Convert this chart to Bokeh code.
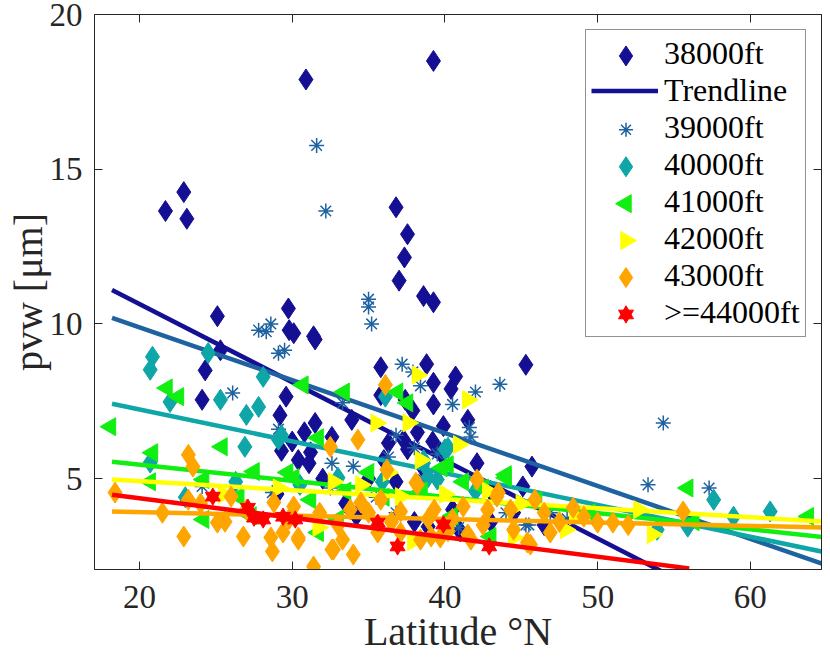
import math
from bokeh.plotting import figure
from bokeh.models import (LinearAxis, FixedTicker, Legend, LegendItem, Range1d)
from bokeh.embed import file_html
from bokeh.resources import INLINE

# ---------------- data ----------------
lat_38 = [30.9, 39.25, 22.9, 21.7, 23.1, 36.8, 37.55, 37.35, 37.0, 38.6, 39.25, 29.75, 25.1,
          29.8, 30.1, 31.4, 31.5, 25.3, 24.3, 24.1, 29.6, 29.2, 29.3, 30.4, 30.8, 31.5, 31.2,
          31.1, 32.6, 33.9, 35.8, 35.8, 38.8, 40.7, 40.4, 39.25, 39.25, 37.4, 37.9, 38.2, 37.3,
          37.55, 39.2, 39.7, 42.1, 45.3, 45.7, 45.1, 38.9, 36.3, 36.8, 30.0, 29.0, 33.5, 35.0,
          38.0, 40.5, 41.0, 43.0, 34.2, 41.5, 39.9, 38.5, 36.0, 32.0, 43.0, 44.5, 46.5]
pvw_38 = [17.9, 18.5, 14.26, 13.65, 13.4, 13.77, 12.9, 12.15, 11.4, 10.9, 10.7, 10.5, 10.25,
          9.8, 9.7, 9.6, 9.5, 9.15, 8.5, 7.55, 7.65, 7.05, 5.9, 5.6, 6.5, 6.8, 5.85,
          5.5, 6.35, 6.9, 8.6, 7.7, 8.7, 8.3, 7.9, 8.1, 7.4, 7.55, 7.2, 6.5, 6.25,
          5.95, 6.2, 5.85, 5.5, 8.68, 5.39, 4.75, 3.45, 6.15, 4.9, 6.2, 4.5, 4.2, 5.0,
          3.6, 4.0, 3.3, 3.6, 3.8, 6.9, 6.7, 5.4, 5.6, 5.0, 4.6, 3.9, 3.5]

lat_39 = [31.6, 32.2, 35.0, 35.0, 35.2, 27.8, 28.3, 28.6, 29.1, 29.5, 26.1, 29.1, 32.6, 33.3,
          24.1, 28.7, 36.3, 37.2, 37.9, 38.4, 40.5, 42.0, 41.6, 41.7, 36.8, 43.6, 54.3, 53.3,
          57.3, 45.5, 46.9, 38.6, 40.9, 45.3, 32.5, 35.5, 38.0, 39.5, 36.8, 34.0, 44.0, 48.0]
pvw_39 = [15.77, 13.65, 10.8, 10.55, 10.0, 9.8, 9.75, 10.0, 9.05, 9.15, 7.77, 6.6, 5.5, 7.45,
          4.75, 4.55, 5.7, 8.7, 8.45, 8.0, 7.4, 7.8, 6.65, 6.35, 6.4, 8.05, 6.8, 4.8,
          4.7, 3.5, 3.9, 4.97, 3.42, 3.5, 4.7, 4.4, 6.0, 5.8, 3.9, 5.4, 3.9, 3.7]

lat_40 = [20.85, 20.7, 24.5, 22.0, 25.3, 28.1, 27.8, 27.0, 26.9, 20.7, 29.1, 26.3, 33.0, 35.9,
          36.1, 38.6, 40.0, 40.2, 38.6, 38.9, 57.6, 61.3, 58.9, 53.9, 55.9, 39.5, 29.3, 42.0,
          30.5, 23.0]
pvw_40 = [8.94, 8.52, 9.06, 7.48, 7.55, 8.29, 7.32, 7.06, 6.03, 5.52, 6.26, 4.9, 5.03, 4.9,
          7.65, 5.6, 5.95, 6.0, 5.5, 5.05, 4.32, 3.94, 3.77, 3.35, 3.45, 4.97, 6.4, 4.6,
          4.8, 4.4]

lat_41 = [18.1, 21.8, 22.55, 20.85, 20.7, 25.4, 30.7, 33.4, 31.7, 27.5, 30.1, 24.2, 24.2, 31.7,
          26.5, 31.2, 36.9, 37.55, 40.2, 44.0, 41.2, 55.9, 63.8, 56.3, 43.0, 39.8, 44.0, 29.7,
          33.5, 36.0, 38.5, 42.5, 46.0, 49.5, 35.0, 27.3, 33.0, 40.5]
pvw_41 = [6.68, 7.93, 7.65, 5.84, 4.9, 6.03, 8.03, 7.8, 6.32, 5.23, 5.03, 4.97, 3.68, 3.26,
          4.42, 4.32, 7.8, 7.45, 5.45, 5.03, 4.9, 4.7, 3.78, 3.61, 3.13, 5.35, 5.13, 5.2,
          4.6, 4.4, 4.6, 4.7, 4.3, 3.9, 5.2, 3.8, 3.7, 3.8]

lat_42 = [35.5, 32.7, 29.1, 38.2, 41.5, 37.6, 40.9, 52.7, 53.6, 47.9, 37.1, 40.0, 37.9, 31.7,
          36.3, 38.4, 34.5, 42.8, 45.0, 25.5, 44.5, 48.5]
pvw_42 = [6.8, 4.9, 4.7, 8.35, 7.55, 6.8, 6.1, 4.0, 3.2, 3.35, 4.42, 4.5, 2.97, 3.42,
          5.2, 5.6, 4.8, 4.6, 4.2, 4.5, 3.1, 3.8]

lat_43 = [18.4, 23.2, 23.5, 23.2, 26.0, 25.1, 25.6, 22.9, 26.8, 28.6, 28.7, 29.4, 30.4, 31.4,
          32.6, 33.3, 34.0, 34.3, 32.5, 36.1, 36.2, 28.8, 35.0, 33.8, 35.6, 38.1, 42.1, 43.4,
          45.9, 48.4, 49.1, 50.0, 51.0, 55.6, 46.9, 45.4, 44.5, 41.7, 40.2, 39.1, 37.1, 38.2,
          43.5, 30.1, 34.5, 35.8, 37.1, 39.3, 41.2, 42.8, 44.3, 30.4, 32.7, 38.4, 39.7, 41.5,
          45.6, 27.0, 31.8, 36.5, 40.5, 47.5, 52.0, 21.5, 24.0, 29.8, 33.0, 38.9, 42.5, 46.5]
pvw_43 = [4.55, 5.77, 5.39, 4.32, 4.42, 3.58, 3.61, 3.13, 3.13, 3.1, 2.65, 3.26, 3.03, 2.16,
          2.71, 3.03, 2.55, 6.26, 6.03, 8.03, 5.29, 4.23, 3.9, 4.0, 3.26, 4.87, 4.97, 4.42,
          4.32, 4.06, 3.77, 3.58, 3.58, 3.94, 3.26, 2.94, 3.35, 3.03, 3.3, 3.13, 3.26, 4.81,
          4.55, 4.1, 4.23, 4.32, 3.94, 4.0, 4.1, 4.0, 4.0, 3.1, 2.71, 3.03, 3.1, 3.2,
          2.87, 4.0, 3.9, 3.6, 3.7, 3.6, 3.5, 3.9, 4.2, 3.7, 3.5, 3.7, 3.5, 3.9]

lat_44 = [24.8, 27.1, 27.5, 28.1, 29.4, 30.2, 35.6, 39.9, 36.9, 42.9]
pvw_44 = [4.42, 4.06, 3.74, 3.68, 3.77, 3.68, 3.58, 3.52, 2.81, 2.81]

# trendline end points
trend_lat_38 = [18.2, 56.0]; trend_pvw_38 = [11.1, 1.55]
trend_lat_39 = [18.2, 65.0]; trend_pvw_39 = [10.2, 2.2]
trend_lat_40 = [18.2, 65.0]; trend_pvw_40 = [7.42, 2.61]
trend_lat_41 = [18.2, 65.0]; trend_pvw_41 = [5.55, 3.1]
trend_lat_42 = [18.2, 65.0]; trend_pvw_42 = [4.97, 3.61]
trend_lat_43 = [18.2, 65.0]; trend_pvw_43 = [3.94, 3.42]
trend_lat_44 = [18.2, 56.0]; trend_pvw_44 = [4.48, 2.1]

labels = ["38000ft", "Trendline", "39000ft", "40000ft", "41000ft", "42000ft", "43000ft", ">=44000ft"]
x_ticks = [20, 30, 40, 50, 60]
y_ticks = [5, 10, 15, 20]

# ---------------- styling / layout ----------------
C38 = "#140f93"
C39 = "#1f62a0"
C40 = "#0ea6a6"
C41 = "#11ee11"
C42 = "#ffff00"
C43 = "#ffa500"
C44 = "#ff0000"
AX = "#262626"
FONT = "Liberation Serif"

W, H = 822, 656
FL, FT, FR, FB = 94, 14, 821, 570          # frame edges in canvas pixels
X0, X1 = 17.053, 64.66
Y0, Y1 = 2.065, 20.0

p = figure(width=W, height=H, output_backend="svg", toolbar_location=None,
           x_range=Range1d(X0, X1), y_range=Range1d(Y0, Y1),
           min_border_left=FL, min_border_top=FT, min_border_right=W - FR,
           min_border_bottom=H - FB)
p.grid.visible = False
p.outline_line_color = AX
p.background_fill_color = "white"
p.border_fill_color = "white"

def style_axis(ax, ticks, show_labels, standoff):
    ax.ticker = FixedTicker(ticks=ticks)
    ax.axis_line_color = AX
    ax.major_tick_line_color = AX
    ax.major_tick_in = 8
    ax.major_tick_out = 0
    ax.minor_tick_line_color = None
    ax.major_label_text_font = FONT
    ax.major_label_text_color = AX
    if show_labels:
        ax.major_label_text_font_size = "33px"
        ax.major_label_standoff = standoff
    else:
        ax.major_label_text_font_size = "0px"
        ax.major_label_standoff = 0
        ax.major_label_overrides = {t: "" for t in ticks}

style_axis(p.xaxis[0], x_ticks, True, 16)
style_axis(p.yaxis[0], y_ticks, True, 12)
p.xaxis[0].axis_label = "Latitude °N"
p.yaxis[0].axis_label = "pvw [μm]"
for ax in (p.xaxis[0], p.yaxis[0]):
    ax.axis_label_text_font = FONT
    ax.axis_label_text_font_size = "40px"
    ax.axis_label_text_font_style = "normal"
    ax.axis_label_text_color = AX
p.xaxis[0].axis_label_standoff = -2
p.yaxis[0].axis_label_standoff = -4

top = LinearAxis(); style_axis(top, x_ticks, False, 0)
right = LinearAxis(); style_axis(right, y_ticks, False, 0)
p.add_layout(top, "above")
p.add_layout(right, "right")

LW = 4.5
r38 = p.scatter(lat_38, pvw_38, marker="diamond", size=21, fill_color=C38, line_color=C38)
t38 = p.line(trend_lat_38, trend_pvw_38, line_color=C38, line_width=LW)
r39 = p.scatter(lat_39, pvw_39, marker="asterisk", size=15, line_color=C39, line_width=1.5)
p.line(trend_lat_39, trend_pvw_39, line_color=C39, line_width=LW)
r40 = p.scatter(lat_40, pvw_40, marker="diamond", size=21, fill_color=C40, line_color=C40)
p.line(trend_lat_40, trend_pvw_40, line_color=C40, line_width=LW)
r41 = p.scatter(lat_41, pvw_41, marker="triangle", angle=math.pi / 2, size=18,
                fill_color=C41, line_color=C41)
p.line(trend_lat_41, trend_pvw_41, line_color=C41, line_width=LW)
r42 = p.scatter(lat_42, pvw_42, marker="triangle", angle=-math.pi / 2, size=18,
                fill_color=C42, line_color=C42)
p.line(trend_lat_42, trend_pvw_42, line_color=C42, line_width=LW)
r43 = p.scatter(lat_43, pvw_43, marker="diamond", size=21, fill_color=C43, line_color=C43)
p.line(trend_lat_43, trend_pvw_43, line_color=C43, line_width=LW)
r44a = p.scatter(lat_44, pvw_44, marker="triangle", size=15, fill_color=C44, line_color=C44)
r44b = p.scatter(lat_44, pvw_44, marker="inverted_triangle", size=15, fill_color=C44, line_color=C44)
p.line(trend_lat_44, trend_pvw_44, line_color=C44, line_width=LW)

# ---------------- legend ----------------
LEG_LEFT, LEG_TOP, PAD, ROW, GLW = 585, 32, 5, 37, 67
n_items = len(labels)
leg_h = 2 * PAD + n_items * ROW

def px_to_x(px):
    return X0 + (px - FL) * (X1 - X0) / (FR - FL)

def py_to_y(py):
    return Y1 - (py - FT) * (Y1 - Y0) / (FB - FT)

key_x = px_to_x(LEG_LEFT + PAD + GLW / 2 + 2)
def key_y(i):
    return py_to_y(LEG_TOP + PAD + ROW * i + ROW / 2)

# legend keys (Bokeh legends ignore marker angles, so keys are drawn as glyphs
# behind a transparent legend box; no data falls inside the box)
key_specs = {
    0: dict(marker="diamond", size=20, fill_color=C38, line_color=C38),
    2: dict(marker="asterisk", size=14, line_color=C39, line_width=1.5),
    3: dict(marker="diamond", size=20, fill_color=C40, line_color=C40),
    4: dict(marker="triangle", angle=math.pi / 2, size=18, fill_color=C41, line_color=C41),
    5: dict(marker="triangle", angle=-math.pi / 2, size=18, fill_color=C42, line_color=C42),
    6: dict(marker="diamond", size=20, fill_color=C43, line_color=C43),
}
for i, spec in key_specs.items():
    p.scatter([key_x], [key_y(i)], **spec)
for mk in ("triangle", "inverted_triangle"):
    p.scatter([key_x], [key_y(7)], marker=mk, size=15, fill_color=C44, line_color=C44)

dummies = {}
for i in list(key_specs.keys()) + [7]:
    dummies[i] = p.scatter([key_x], [key_y(i)], marker="circle", size=1,
                           fill_alpha=0, line_alpha=0)

items = []
for i, lab in enumerate(labels):
    rend = t38 if i == 1 else dummies[i]
    items.append(LegendItem(label=lab, renderers=[rend]))

legend = Legend(items=items, location=(LEG_LEFT - FL, FB - (LEG_TOP + leg_h)))
legend.margin = 0
legend.padding = PAD
legend.spacing = 0
legend.glyph_width = GLW
legend.glyph_height = ROW
legend.label_height = ROW
legend.label_standoff = 6
legend.label_text_font = FONT
legend.label_text_font_size = "32px"
legend.label_text_color = "black"
legend.border_line_color = AX
legend.border_line_width = 1
legend.background_fill_alpha = 0.0
p.add_layout(legend)

open("out.html", "w").write(file_html(p, INLINE))
